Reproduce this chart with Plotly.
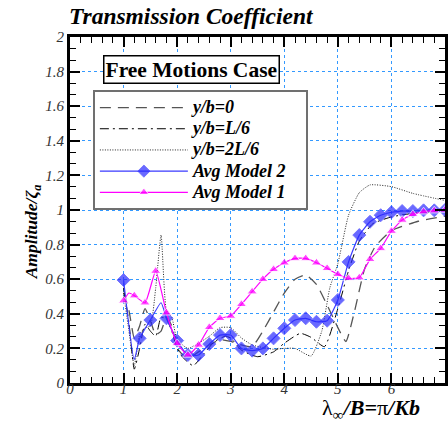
import plotly.graph_objects as go

# ---- data ----
x_m2 = [1.0, 1.2, 1.3, 1.5, 1.7, 1.8, 2.0, 2.2, 2.4, 2.6, 2.8, 3.0, 3.2, 3.4, 3.6, 3.8, 4.0, 4.2, 4.4, 4.6, 4.8,
        5.0, 5.2, 5.4, 5.6, 5.8, 6.0, 6.2, 6.4, 6.6, 6.8, 7.0]
y_m2 = [0.595, 0.135, 0.258, 0.364, 0.464, 0.374, 0.245, 0.162, 0.162, 0.225, 0.277, 0.277, 0.2, 0.187, 0.2,
        0.258, 0.316, 0.364, 0.374, 0.354, 0.36, 0.48, 0.70, 0.855, 0.932, 0.97, 0.987, 0.994, 0.994, 0.998,
        0.998, 1.0]

x_m1 = [1.0, 1.1, 1.2, 1.4, 1.6, 1.8, 2.0, 2.2, 2.4, 2.6, 2.8, 3.0, 3.2, 3.4, 3.6, 3.8, 4.0, 4.2, 4.4, 4.6, 4.8,
        5.0, 5.2, 5.4, 5.6, 5.8, 6.0, 6.2, 6.4, 6.6, 6.8, 7.0]
y_m1 = [0.476, 0.52, 0.505, 0.464, 0.647, 0.406, 0.229, 0.162, 0.22, 0.322, 0.374, 0.387, 0.455, 0.528, 0.6,
        0.657, 0.695, 0.72, 0.72, 0.695, 0.663, 0.628, 0.605, 0.609, 0.715, 0.778, 0.878, 0.942, 0.975, 0.99,
        0.996, 1.0]

x_d0 = [1.0, 1.1, 1.2, 1.3, 1.4, 1.5, 1.6, 1.7, 1.8, 1.9, 2.0, 2.2, 2.4, 2.6, 2.8, 3.0, 3.2, 3.4, 3.6, 3.8, 4.0,
        4.2, 4.4, 4.6, 4.8, 5.0, 5.15, 5.3, 5.5, 5.7, 6.0, 6.5, 7.0]
y_d0 = [0.52, 0.42, 0.26, 0.33, 0.43, 0.36, 0.28, 0.30, 0.38, 0.33, 0.2, 0.14, 0.18, 0.22, 0.25, 0.24, 0.22,
        0.21, 0.30, 0.41, 0.52, 0.60, 0.625, 0.57, 0.45, 0.32, 0.24, 0.40, 0.66, 0.79, 0.88, 0.935, 0.965]

x_d1 = [1.0, 1.1, 1.2, 1.3, 1.4, 1.5, 1.6, 1.7, 1.8, 1.9, 2.0, 2.1, 2.3, 2.5, 2.7, 2.9, 3.0, 3.2, 3.5, 3.8, 4.0,
        4.3, 4.5, 4.75, 5.0, 5.2, 5.4, 5.65, 6.0, 6.5, 7.0]
y_d1 = [0.55, 0.35, 0.08, 0.2, 0.34, 0.3, 0.27, 0.38, 0.37, 0.3, 0.2, 0.15, 0.1, 0.17, 0.24, 0.27, 0.26, 0.19,
        0.152, 0.18, 0.23, 0.287, 0.264, 0.21, 0.43, 0.65, 0.82, 0.92, 0.96, 0.985, 0.995]

x_d2 = [1.0, 1.1, 1.2, 1.3, 1.4, 1.5, 1.6, 1.7, 1.8, 1.9, 2.0, 2.2, 2.4, 2.6, 2.8, 3.0, 3.2, 3.4, 3.6, 3.8, 4.0,
        4.2, 4.5, 4.7, 4.85, 5.0, 5.2, 5.4, 5.6, 6.0, 6.4, 7.0]
y_d2 = [0.52, 0.3, 0.1, 0.28, 0.32, 0.33, 0.55, 0.855, 0.42, 0.38, 0.25, 0.2, 0.23, 0.27, 0.32, 0.32, 0.26,
        0.22, 0.205, 0.195, 0.2, 0.2, 0.156, 0.3, 0.55, 0.69, 0.97, 1.1, 1.145, 1.135, 1.096, 1.055]

names = ["y/b=0", "y/b=L/6", "y/b=2L/6", "Avg Model 2", "Avg Model 1"]
x_ticks = [0, 1, 2, 3, 4, 5, 6, 7]
y_ticks = [0, 0.2, 0.4, 0.6, 0.8, 1, 1.2, 1.4, 1.6, 1.8, 2]
y_tick_text = ["0", "0.2", "0.4", "0.6", "0.8", "1", "1.2", "1.4", "1.6", "1.8", "2"]

# style config
unmarked_m2 = {1.2, 1.7}
unmarked_m1 = {1.1}

SERIF = "Liberation Serif, Times New Roman, serif"

def bi(s):
    return f"<b><i>{s}</i></b>"

def leg(s):
    return f'<span style="font-size:18px"><b><i>{s}</i></b>&nbsp;&nbsp;&nbsp;</span>'

fig = go.Figure()
fig.add_trace(go.Scatter(x=x_d0, y=y_d0, mode="lines", name=leg(names[0]),
                         line=dict(color="#555555", width=1.3, dash="11px,7px", shape="spline", smoothing=0.5)))
fig.add_trace(go.Scatter(x=x_d1, y=y_d1, mode="lines", name=leg(names[1]),
                         line=dict(color="black", width=1, dash="9px,4px,2px,4px", shape="spline", smoothing=0.5)))
fig.add_trace(go.Scatter(x=x_d2, y=y_d2, mode="lines", name=leg(names[2]),
                         line=dict(color="#222222", width=1, dash="1px,1.5px", shape="spline", smoothing=0.5)))
fig.add_trace(go.Scatter(x=x_m2, y=y_m2, mode="lines+markers", name=leg(names[3]),
                         line=dict(color="#3a3aff", width=1.2, shape="spline", smoothing=0.5),
                         marker=dict(symbol="diamond", color="#2a2aff",
                                     size=[0 if v in unmarked_m2 else 10 for v in x_m2])))
fig.add_trace(go.Scatter(x=x_m1, y=y_m1, mode="lines+markers", name=leg(names[4]),
                         line=dict(color="#ff00ff", width=1.2, shape="spline", smoothing=0.5),
                         marker=dict(symbol="triangle-up", color="#ff00ff",
                                     size=[0 if v in unmarked_m1 else 9 for v in x_m1])))

axis_common = dict(
    showline=True, linecolor="black", linewidth=3, mirror="allticks",
    ticks="inside", ticklen=10, tickwidth=2, tickcolor="black",
    showgrid=True, gridcolor="#3399ff", griddash="dot", gridwidth=1,
    zeroline=False,
    tickfont=dict(family=SERIF, size=15, color="#333333"),
)

fig.update_xaxes(range=[0, 7], tickvals=x_ticks, ticktext=[f"<i>{v}</i>" for v in x_ticks],
                 ticklabelstandoff=-10,
                 minor=dict(dtick=0.2, ticks="inside", ticklen=6, tickwidth=1, tickcolor="black", showgrid=False),
                 **axis_common)
fig.update_yaxes(range=[0, 2], tickvals=y_ticks, ticktext=[f"<i>{t}</i>" for t in y_tick_text],
                 minor=dict(dtick=0.2 / 3, tick0=0, ticks="inside", ticklen=6, tickwidth=1, tickcolor="black",
                            showgrid=False),
                 **axis_common)

fig.update_layout(
    width=448, height=422,
    margin=dict(l=70, r=0, t=37, b=39),
    plot_bgcolor="white", paper_bgcolor="white",
    title=dict(text=bi("Transmission Coefficient"), x=69 / 448, xanchor="left", y=0.962, yanchor="middle",
               font=dict(family=SERIF, size=23.5, color="black")),
    legend=dict(x=0.061, y=0.847, xanchor="left", yanchor="top", bgcolor="white",
                bordercolor="#707070", borderwidth=2, itemwidth=88, tracegroupgap=0,
                font=dict(family=SERIF, size=14, color="black")),
    showlegend=True,
    annotations=[
        dict(text="<b>Free Motions Case</b>", xref="paper", yref="paper", x=0.3227, y=0.9075,
             xanchor="center", yanchor="middle",
             showarrow=False, bgcolor="white", bordercolor="black", borderwidth=1.5, borderpad=1,
             font=dict(family=SERIF, size=21.5, color="black")),
        dict(text=bi("Amplitude/ζ<sub>a</sub>"), xref="paper", yref="paper", textangle=-90,
             x=(32 - 70) / 378, y=(383 - 232) / 346, xanchor="center", yanchor="middle",
             showarrow=False, font=dict(family=SERIF, size=17.5, color="black")),
        dict(text="λ<sub>∞</sub>" + bi("/B=") + "π" + bi("/Kb"), xref="paper", yref="paper",
             x=(373 - 70) / 378, y=(383 - 409) / 346, xanchor="center",
             yanchor="middle", showarrow=False, font=dict(family=SERIF, size=22, color="black")),
    ],
)

fig.write_html("out.html")
